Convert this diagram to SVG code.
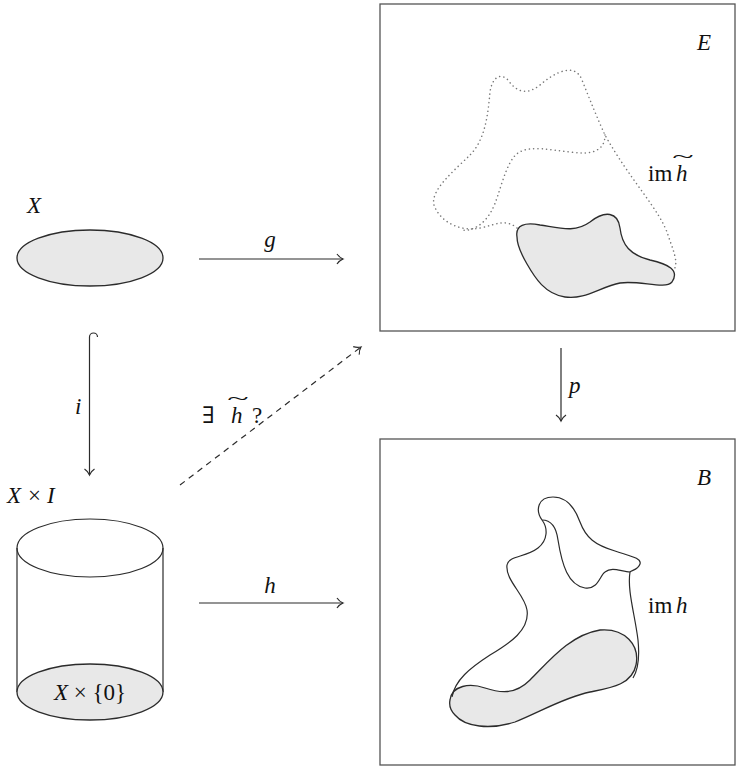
<svg xmlns="http://www.w3.org/2000/svg" width="736" height="769" viewBox="0 0 736 769">
<defs>
<style>
.ln{fill:none;stroke:#2b2b2b;stroke-width:1.2}
.sh{fill:#e8e8e8;stroke:#2b2b2b;stroke-width:1.3}
.bx{fill:none;stroke:#555;stroke-width:1.3}
.dot{fill:none;stroke:#777;stroke-width:1.5;stroke-dasharray:0.1 4.2;stroke-linecap:round}
.t{font-family:'Liberation Serif','Times New Roman','DejaVu Serif',serif;font-size:23px;fill:#111}
.i{font-style:italic}
.tl{font-family:'Liberation Serif','Times New Roman','DejaVu Serif',serif;font-size:22px;fill:#111}
</style>
<marker id="arr" viewBox="-8 -6 10 12" refX="0" refY="0" markerWidth="10" markerHeight="12" orient="auto" markerUnits="userSpaceOnUse">
<path d="M-6,-5 C-4,-2 -1.5,-0.6 0,0 C-1.5,0.6 -4,2 -6,5" fill="none" stroke="#2b2b2b" stroke-width="1.2"/>
</marker>
</defs>
<rect width="736" height="769" fill="#fff"/>

<g id="X">
<ellipse class="sh" cx="90" cy="258" rx="73" ry="28"/>
<text class="t i" x="27" y="213">X</text>
</g>

<g id="XxI">
<text class="t" x="7" y="503"><tspan class="i">X</tspan><tspan x="28">×</tspan><tspan class="i" x="47">I</tspan></text>
<line class="ln" x1="17" y1="548" x2="17" y2="692"/>
<line class="ln" x1="163" y1="548" x2="163" y2="692"/>
<ellipse class="ln" cx="90" cy="548" rx="73" ry="29"/>
<ellipse class="sh" cx="90" cy="692" rx="73" ry="28"/>
<text class="t" x="90" y="700" text-anchor="middle"><tspan class="i">X</tspan> × {0}</text>
</g>

<g id="E">
<rect class="bx" x="380" y="4" width="355" height="327"/>
<text class="t i" x="697" y="50">E</text>
<path class="dot" d="M517,228 C505,218 495,225 480,228 C460,232 440,222 434,205 C430,190 455,170 470,155 C485,140 488,115 490,92 C492,78 500,72 508,80 C515,90 525,97 540,85 C555,72 575,62 582,80 C590,100 598,120 605,135 C630,180 660,210 668,235 C675,255 678,262 674,270"/>
<path class="dot" d="M605,135 C605,152 590,155 570,152 C550,150 530,145 518,153 C505,162 500,195 492,210 C484,225 472,232 460,230"/>
<path class="sh" d="M517,237 C515,225 525,222 540,225 C560,228 575,233 590,222 C605,210 618,212 620,228 C622,245 630,255 650,260 C668,264 680,270 672,282 C665,290 640,280 620,283 C600,287 585,300 565,297 C545,294 535,278 527,264 C520,252 517,245 517,237 Z"/>
<text class="t" x="648" y="181">im<tspan class="i" x="676">h</tspan></text>
<text class="tl" x="683" y="163" text-anchor="middle" transform="translate(683,163) scale(1.8,0.9) translate(-683,-163)">~</text>
</g>

<g id="B">
<rect class="bx" x="380" y="439" width="355" height="326"/>
<text class="t i" x="697" y="485">B</text>
<path class="sh" d="M450,700 C452,685 470,683 485,688 C500,693 515,695 530,680 C550,660 570,635 600,630 C625,628 640,645 636,665 C632,685 610,688 590,692 C565,697 540,712 515,722 C490,730 465,727 455,715 C450,710 449,705 450,700 Z"/>
<path class="ln" d="M452,697 C455,680 470,668 490,655 C510,643 530,630 527,610 C525,595 505,580 507,565 C509,555 525,558 538,548 C548,540 548,528 542,520 C535,510 538,497 553,497 C566,497 575,508 580,522 C586,538 595,545 615,551 C630,556 642,558 640,564 C638,570 632,570 630,572 C627,590 635,615 638,640 C640,660 638,670 633,678"/>
<path class="ln" d="M542,520 C550,520 556,525 558,540 C562,565 568,585 585,588 C598,590 600,575 605,572 C612,566 622,572 630,572"/>
<text class="t" x="648" y="613">im<tspan class="i" x="676">h</tspan></text>
</g>

<g id="connectors">
<line class="ln" x1="199" y1="259" x2="343" y2="259" marker-end="url(#arr)"/>
<text class="t i" x="270" y="247" text-anchor="middle">g</text>
<line class="ln" x1="199" y1="603" x2="343" y2="603" marker-end="url(#arr)"/>
<text class="t i" x="270" y="593" text-anchor="middle">h</text>
<path class="ln" d="M97.5,337 A4,4 0 0 0 89.5,337 V475" marker-end="url(#arr)"/>
<text class="t i" x="75" y="414">i</text>
<line class="ln" x1="561" y1="348" x2="561" y2="421" marker-end="url(#arr)"/>
<text class="t i" x="569" y="393">p</text>
<line class="ln" x1="180" y1="485" x2="361" y2="347" stroke-dasharray="6 5" marker-end="url(#arr)"/>
<text class="t" x="202" y="423">∃<tspan class="i" x="231">h</tspan><tspan x="252">?</tspan></text>
<text class="tl" x="238" y="405" text-anchor="middle" transform="translate(238,405) scale(1.8,0.9) translate(-238,-405)">~</text>
</g>
</svg>
